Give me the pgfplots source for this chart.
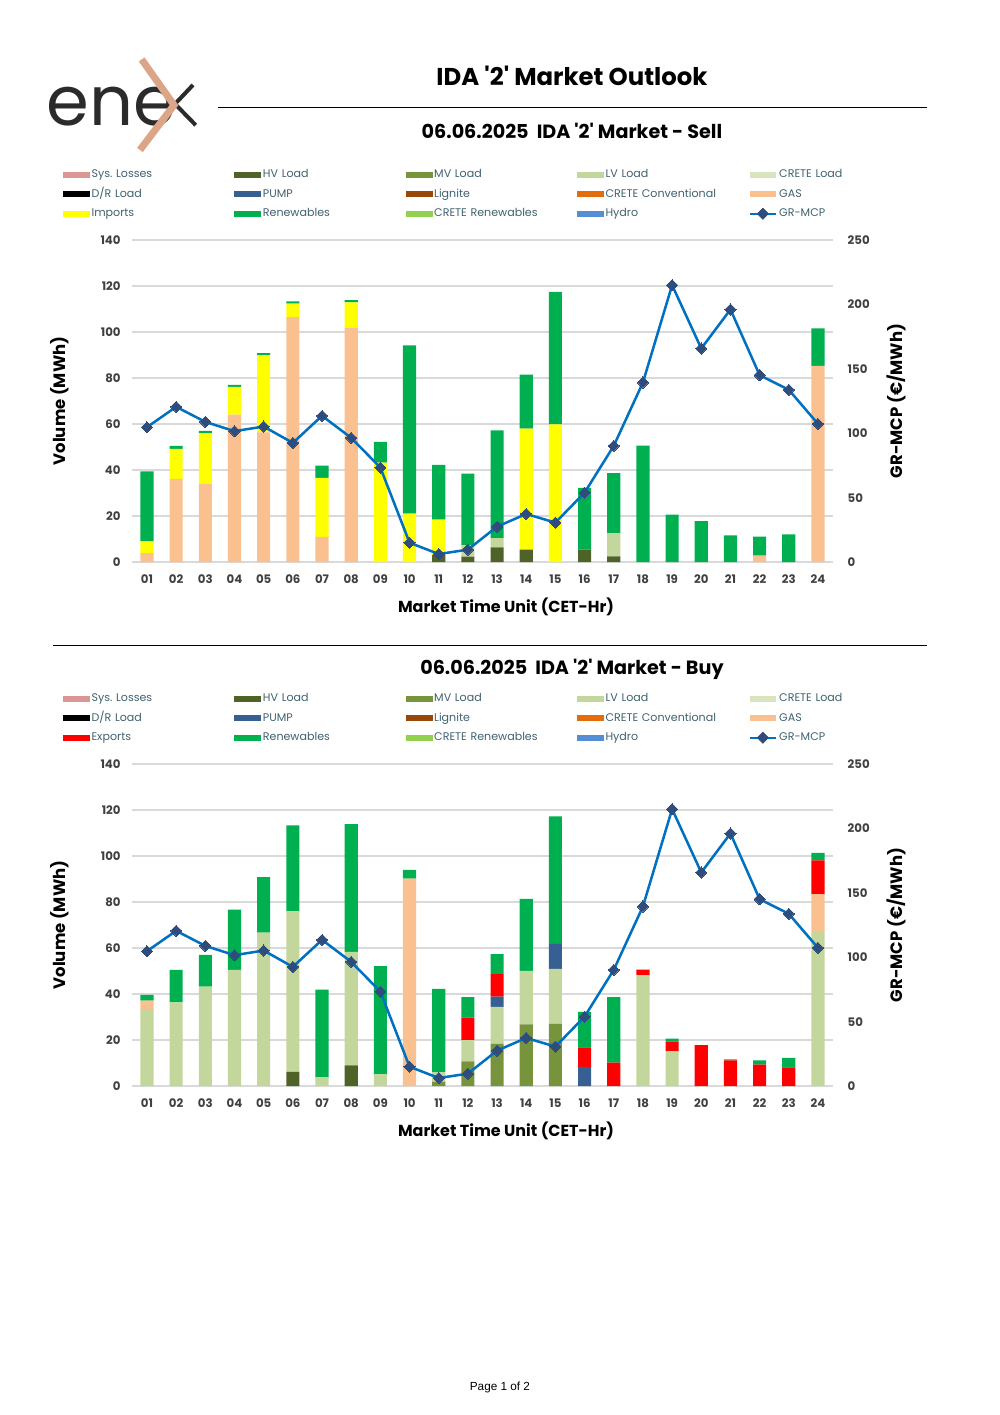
\documentclass[border=0pt]{standalone}
\usepackage{fontspec}
\setmainfont{Poppins}[Ligatures=TeXOff]
\newfontfamily\arial{Liberation Sans}
\usepackage{pgfplots}
\usepackage{pgfplotstable}
\pgfplotsset{compat=1.18}
\frenchspacing

\definecolor{sysl}{HTML}{DA9694}
\definecolor{hvl}{HTML}{4F6228}
\definecolor{mvl}{HTML}{77933C}
\definecolor{lvl}{HTML}{C3D69B}
\definecolor{crl}{HTML}{D7E4BD}
\definecolor{drl}{HTML}{000000}
\definecolor{pump}{HTML}{376092}
\definecolor{lign}{HTML}{984807}
\definecolor{crc}{HTML}{E46C0A}
\definecolor{gas}{HTML}{FAC090}
\definecolor{imp}{HTML}{FFFF00}
\definecolor{expc}{HTML}{FF0000}
\definecolor{ren}{HTML}{00B050}
\definecolor{crr}{HTML}{92D050}
\definecolor{hydro}{HTML}{558ED5}
\definecolor{mcpline}{HTML}{0070C0}
\definecolor{mcpmark}{HTML}{2E4D7D}
\definecolor{gridc}{HTML}{D9D9D9}
\definecolor{tickc}{HTML}{404040}
\definecolor{legc}{HTML}{3F6170}
\definecolor{copper}{HTML}{DCA587}
\definecolor{logoc}{HTML}{2B2B2B}

% sell side (MWh)
\pgfplotstableread{
h  hv  lv   gas    imp   ren
1  0   0    3.9    5.1   30.4
2  0   0    36.1   13.1  1.3
3  0   0    34.1   21.9  1.0
4  0   0    64.1   12.1  0.8
5  0   0    56.4   33.6  0.8
6  0   0    106.5  5.9   0.9
7  0   0    10.9   25.7  5.3
8  0   0    101.8  11.1  1.0
9  0   0    0      43.2  9.0
10 0   0    0      21.0  73.2
11 3.0 0    0      15.4  23.8
12 2.3 5.1  0      0     31.0
13 6.4 4.0  0      0     46.8
14 5.4 0    0      52.6  23.5
15 0   0    0      59.8  57.7
16 5.4 0    0      0     26.8
17 2.5 10.0 0      0     26.1
18 0   0    0      0     50.6
19 0   0    0      0     20.6
20 0   0    0      0     17.8
21 0   0    0      0     11.6
22 0   0    2.8    0     8.2
23 0   0    0      0     12.0
24 0   0    85.3   0     16.3
}\selltab

% buy side (MWh)
\pgfplotstableread{
h  hv  mv   lv   pump  gas   exp   ren
1  0   0    33.4 0     3.7   0     2.5
2  0   0    36.4 0     0     0     14.1
3  0   0    43.2 0     0     0     13.8
4  0   0    50.5 0     0     0     26.2
5  0   0    66.7 0     0     0     24.1
6  6.1 0    69.8 0     0     0     37.4
7  0   0    3.8  0     0     0     38.1
8  9.0 0    49.3 0     0     0     55.6
9  0   0    5.2  0     0     0     46.9
10 0   0    0    0     90.2  0     3.8
11 0   1.9  4.1  0     0     0     36.2
12 0   10.7 9.3  0     0     9.7   8.9
13 0   18.3 16.1 4.5   0     9.8   8.6
14 0   26.8 23.3 0     0     0     31.3
15 0   27.0 23.9 10.9  0     0     55.4
16 0   0    0    8.3   0     8.5   15.4
17 0   0    0    0     0     10.2  28.4
18 0   0    48.2 0     0     2.4   0
19 0   0    15.2 0     0     4.1   1.3
20 0   0    0    0     0     17.8  0
21 0   0    0    0     0     11.1  0.5
22 0   0    0    0     0     9.3   1.9
23 0   0    0    0     0     8.1   4.1
24 0   0    67.0 0     16.4  14.7  3.3
}\buytab

% GR-MCP (EUR/MWh)
\pgfplotstableread{
h  mcp
1  104.7
2  120.5
3  108.8
4  101.6
5  105.2
6  92.5
7  113.5
8  96.4
9  73.3
10 15.0
11 6.2
12 9.6
13 27.5
14 37.3
15 30.6
16 53.9
17 90.2
18 139.4
19 215.0
20 165.8
21 196.1
22 145.1
23 133.7
24 107.3
}\mcptab

\pgfplotsset{
  sw/.style={fill=#1, draw=none,
    legend image code/.code={\fill[##1] (0pt,-1.8pt) rectangle (16pt,1.8pt);}},
  mcpleg/.style={legend image code/.code={
    \draw[mcpline, line width=1.4pt] (0pt,0pt) -- (16pt,0pt);
    \fill[mcpmark] (8pt,3.3pt) -- (11.3pt,0pt) -- (8pt,-3.3pt) -- (4.7pt,0pt) -- cycle;}},
  frame/.style={
    scale only axis, width=416.83pt, height=191.69pt,
    xmin=0.5, xmax=24.5,
    xtick={1,...,24},
    axis line style={draw=none}, major tick length=0pt,
    tick label style={font=\fontsize{7}{8}\selectfont\bfseries, text=tickc},
    /pgf/number format/assume math mode=true,
  },
  vol/.style={
    frame, ymin=0, ymax=140, ytick={0,20,...,140},
    xticklabels={01,02,03,04,05,06,07,08,09,10,11,12,13,14,15,16,17,18,19,20,21,22,23,24},
    xticklabel style={yshift=-4pt},
    yticklabel style={xshift=-3.5pt},
    ymajorgrids, grid style={draw=gridc, line width=0.7pt},
    ybar stacked, bar width=0.45,
    xlabel={Market Time Unit (CET-Hr)}, ylabel={Volume (MWh)},
    every axis x label/.style={at={(axis description cs:0.5336,-0.1398)}, anchor=center,
      font=\fontsize{9.5}{11}\selectfont\bfseries},
    every axis y label/.style={at={(axis description cs:-0.1034,0.5)}, anchor=center, rotate=90,
      font=\fontsize{9.8}{11}\selectfont\bfseries},
    legend columns=5, legend cell align=left,
    legend style={at={(axis description cs:-0.0991,1.233)}, anchor=north west,
      draw=none, fill=none, inner sep=0pt, outer sep=0pt,
      /tikz/column sep=0pt, /tikz/row sep=0pt,
      nodes={font=\fontsize{6.6}{7}\selectfont, text=legc, text width=84pt,
        inner xsep=1pt, inner ysep=2.55pt, text height=4.9pt, text depth=1.6pt}},
  },
  price/.style={
    frame, ymin=0, ymax=250, ytick={0,50,...,250},
    axis x line=none, axis y line*=right,
    yticklabel style={xshift=5.5pt},
    ylabel={GR-MCP (€/MWh)},
    every axis y label/.style={at={(axis description cs:1.0905,0.5)}, anchor=center, rotate=90,
      font=\fontsize{9.8}{11}\selectfont\bfseries},
  },
  mcpplot/.style={mcpline, line width=1.5pt, mark=square*, mark size=2.35pt,
    mark options={rotate=45, fill=mcpmark, draw=mcpmark, line width=0pt}},
}

\begin{document}
\begin{tikzpicture}
\path (0,0) rectangle (595.3pt,842.4pt);

% logo
\node[anchor=base west, inner sep=0pt, text=logoc, font=\fontsize{41}{41}\selectfont] at (27.5pt,767.9pt) {ene};
\draw[logoc, line width=2.4pt] (114.9pt,791.8pt) -- (104.2pt,780.5pt) -- (116.5pt,767.9pt);
\draw[copper, line width=4.2pt] (84.35pt,807.0pt) -- (103.6pt,779.8pt) -- (83.3pt,753.1pt);

% headings
\node[font=\fontsize{14.5}{16}\selectfont\bfseries] at (340.5pt,797.1pt) {IDA '2' Market Outlook};
\draw[black, line width=0.6pt] (129.78pt,778.65pt) -- (551.84pt,778.65pt);
\node[font=\fontsize{11.4}{13}\selectfont\bfseries] at (340.5pt,764.37pt) {06.06.2025\ \ IDA '2' Market - Sell};
\draw[black, line width=0.6pt] (31.55pt,458.38pt) -- (551.84pt,458.38pt);
\node[font=\fontsize{11.4}{13}\selectfont\bfseries] at (340.5pt,444.09pt) {06.06.2025\ \ IDA '2' Market - Buy};
\node[font=\arial\fontsize{7}{8}\selectfont] at (297.65pt,16.67pt) {Page 1 of 2};

% ---------- sell ----------
\begin{axis}[vol, at={(78.82pt,507.8pt)}, anchor=south west]
\addlegendimage{sw=sysl}\addlegendentry{Sys. Losses}
\addplot[sw=hvl] table[x=h,y=hv] {\selltab};\addlegendentry{HV Load}
\addlegendimage{sw=mvl}\addlegendentry{MV Load}
\addplot[sw=lvl] table[x=h,y=lv] {\selltab};\addlegendentry{LV Load}
\addlegendimage{sw=crl}\addlegendentry{CRETE Load}
\addlegendimage{sw=drl}\addlegendentry{D/R Load}
\addlegendimage{sw=pump}\addlegendentry{PUMP}
\addlegendimage{sw=lign}\addlegendentry{Lignite}
\addlegendimage{sw=crc}\addlegendentry{CRETE Conventional}
\addplot[sw=gas] table[x=h,y=gas] {\selltab};\addlegendentry{GAS}
\addplot[sw=imp] table[x=h,y=imp] {\selltab};\addlegendentry{Imports}
\addplot[sw=ren] table[x=h,y=ren] {\selltab};\addlegendentry{Renewables}
\addlegendimage{sw=crr}\addlegendentry{CRETE Renewables}
\addlegendimage{sw=hydro}\addlegendentry{Hydro}
\addlegendimage{mcpleg}\addlegendentry{GR-MCP}
\end{axis}
\begin{axis}[price, at={(78.82pt,507.8pt)}, anchor=south west]
\addplot[mcpplot] table[x=h,y=mcp] {\mcptab};
\end{axis}

% ---------- buy ----------
\begin{axis}[vol, at={(78.82pt,195.85pt)}, anchor=south west]
\addlegendimage{sw=sysl}\addlegendentry{Sys. Losses}
\addplot[sw=hvl] table[x=h,y=hv] {\buytab};\addlegendentry{HV Load}
\addplot[sw=mvl] table[x=h,y=mv] {\buytab};\addlegendentry{MV Load}
\addplot[sw=lvl] table[x=h,y=lv] {\buytab};\addlegendentry{LV Load}
\addlegendimage{sw=crl}\addlegendentry{CRETE Load}
\addlegendimage{sw=drl}\addlegendentry{D/R Load}
\addplot[sw=pump] table[x=h,y=pump] {\buytab};\addlegendentry{PUMP}
\addlegendimage{sw=lign}\addlegendentry{Lignite}
\addlegendimage{sw=crc}\addlegendentry{CRETE Conventional}
\addplot[sw=gas] table[x=h,y=gas] {\buytab};\addlegendentry{GAS}
\addplot[sw=expc] table[x=h,y=exp] {\buytab};\addlegendentry{Exports}
\addplot[sw=ren] table[x=h,y=ren] {\buytab};\addlegendentry{Renewables}
\addlegendimage{sw=crr}\addlegendentry{CRETE Renewables}
\addlegendimage{sw=hydro}\addlegendentry{Hydro}
\addlegendimage{mcpleg}\addlegendentry{GR-MCP}
\end{axis}
\begin{axis}[price, at={(78.82pt,195.85pt)}, anchor=south west]
\addplot[mcpplot] table[x=h,y=mcp] {\mcptab};
\end{axis}
\end{tikzpicture}
\end{document}
